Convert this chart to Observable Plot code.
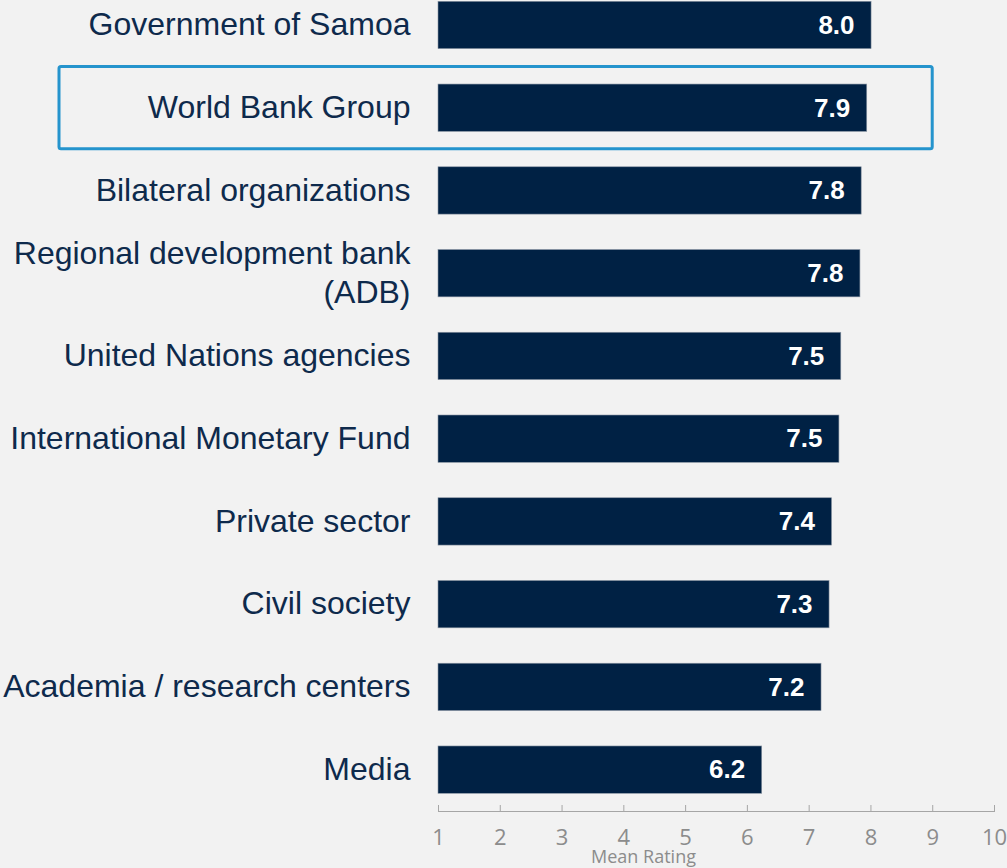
<!DOCTYPE html>
<html>
<head>
<meta charset="utf-8">
<script src="https://cdn.jsdelivr.net/npm/d3@7"></script>
<script src="https://cdn.jsdelivr.net/npm/@observablehq/plot@0.6"></script>
<style>
  html, body { margin: 0; padding: 0; background: #f2f2f2; }
  #chart svg { display: block; }
</style>
</head>
<body>
<div id="chart"></div>
<script>
const categories = [
  "Government of Samoa",
  "World Bank Group",
  "Bilateral organizations",
  "Regional development bank\n(ADB)",
  "United Nations agencies",
  "International Monetary Fund",
  "Private sector",
  "Civil society",
  "Academia / research centers",
  "Media"
];
const values = [8.01, 7.94, 7.85, 7.83, 7.52, 7.49, 7.37, 7.33, 7.20, 6.24];
const xTicks = [1, 2, 3, 4, 5, 6, 7, 8, 9, 10];
const highlightCategory = "World Bank Group";
const highlightEnd = 9;
const axisTitle = "Mean Rating";

const data = categories.map((name, i) => ({name, value: values[i]}));
const navy = "#002144";
const textNavy = "#0e2a4c";

const chart = Plot.plot({
  width: 1007,
  height: 868,
  marginLeft: 438,
  marginRight: 13,
  marginTop: 0,
  marginBottom: 57,
  style: {background: "#f2f2f2", fontFamily: "'Liberation Sans', Arial, sans-serif"},
  x: {domain: [1, 10]},
  y: {domain: categories, range: [1.3, 793.3], paddingInner: 0.428, paddingOuter: 0, round: false},
  marks: [
    Plot.barX(data, {x1: 1, x2: "value", y: "name", fill: navy, stroke: "#8a95a3", strokeWidth: 0.6}),
    Plot.text(data, {
      x: "value", y: "name", text: d => d.value.toFixed(1),
      textAnchor: "end", dx: -17, fill: "white", fontWeight: "bold", fontSize: 26
    }),
    Plot.barX([highlightCategory], {
      y: d => d, x1: 1, x2: highlightEnd,
      insetLeft: -379, insetTop: -17.5, insetBottom: -17.5,
      fill: "none", stroke: "#2594cd", strokeWidth: 3, rx: 2
    }),
    Plot.axisY({
      tickSize: 0, tickPadding: 28, dy: -2.5, fontSize: 32, fill: textNavy, lineHeight: 1.2, label: null
    }),
    Plot.frame({anchor: "bottom", stroke: "#a6a6a6"}),
    Plot.tickX(xTicks, {x: d => d, stroke: "#a6a6a6", insetTop: 805}),
    Plot.axisX(xTicks, {
      tickSize: 0, tickPadding: 18, fontSize: 22, fill: "#8c8c8c", label: null,
      fontFamily: "'Open Sans', sans-serif"
    }),
    Plot.text([axisTitle], {
      frameAnchor: "bottom-left", textAnchor: "middle", lineAnchor: "middle",
      dx: 205, dy: 46, fontSize: 18,
      fill: "#8c8c8c", fontFamily: "'Open Sans', sans-serif"
    })
  ]
});
document.getElementById("chart").appendChild(chart);
</script>
</body>
</html>
